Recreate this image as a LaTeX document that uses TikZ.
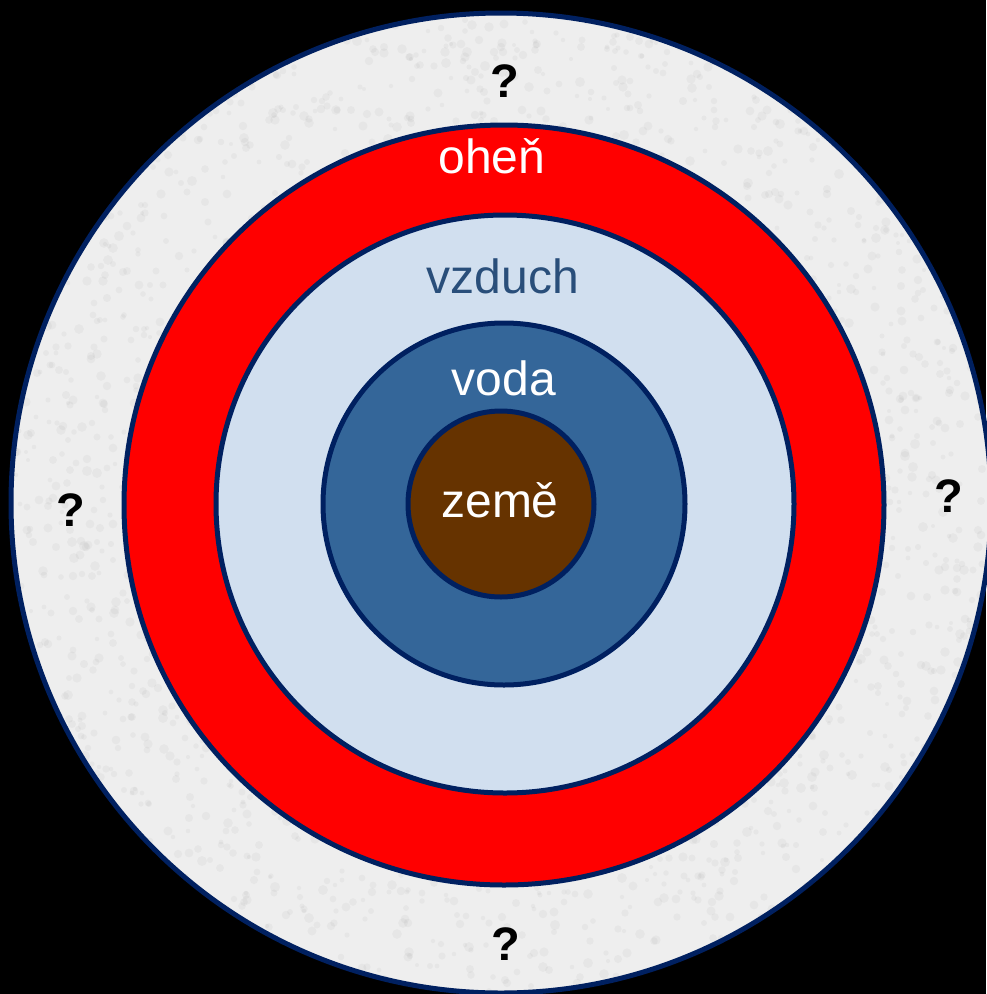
\documentclass[tikz,border=0pt]{standalone}
\usepackage{fontspec}
\setmainfont{Liberation Sans}
\definecolor{navy}{RGB}{0,32,96}
\definecolor{outerg}{RGB}{238,238,238}
\definecolor{fire}{RGB}{255,0,0}
\definecolor{air}{RGB}{209,223,239}
\definecolor{water}{RGB}{52,102,153}
\definecolor{earth}{RGB}{102,51,0}
\definecolor{airtxt}{RGB}{41,78,122}
\begin{document}
\begin{tikzpicture}[x=1pt,y=-1pt,
  ring/.style={draw=navy,line width=5pt},
  lbl/.style={anchor=base,inner sep=0pt,font=\fontsize{48}{48}\selectfont},
  qm/.style={anchor=base,inner sep=0pt,font=\fontsize{47}{47}\selectfont\bfseries,text=black}]
\fill[black] (0,0) rectangle (986,994);
\useasboundingbox (0,0) rectangle (986,994);
% outer ring
\fill[outerg] (501,503) circle[radius=490];
\begin{scope}
  \clip (501,503) circle[radius=490];
  \pgfmathsetseed{7}
  \foreach \i in {1,...,3500}{
    \pgfmathsetmacro{\px}{random(0,986)}
    \pgfmathsetmacro{\py}{random(0,994)}
    \pgfmathsetmacro{\pr}{2+3*rnd}
    \fill[gray,opacity=0.07] (\px,\py) circle[radius=\pr];
  }
\end{scope}
\draw[ring] (501,503) circle[radius=490];
\filldraw[ring,fill=fire] (504,505) circle[radius=380];
\filldraw[ring,fill=air] (505,504) circle[radius=289];
\filldraw[ring,fill=water] (504,504) circle[radius=181];
\filldraw[ring,fill=earth] (501,504) circle[radius=93];
% labels
\node[lbl,text=white] (ohen) at (492,173) {oheň};
\node[lbl,text=airtxt] (vzduch) at (503,293) {vzduch};
\node[lbl,text=white] (voda) at (504,395) {voda};
\node[lbl,text=white] (zeme) at (500,517) {země};
\node[qm] (q1) at (505,97) {?};
\node[qm] (q2) at (71,526) {?};
\node[qm] (q3) at (949,512) {?};
\node[qm] (q4) at (506,960) {?};
\end{tikzpicture}
\end{document}
